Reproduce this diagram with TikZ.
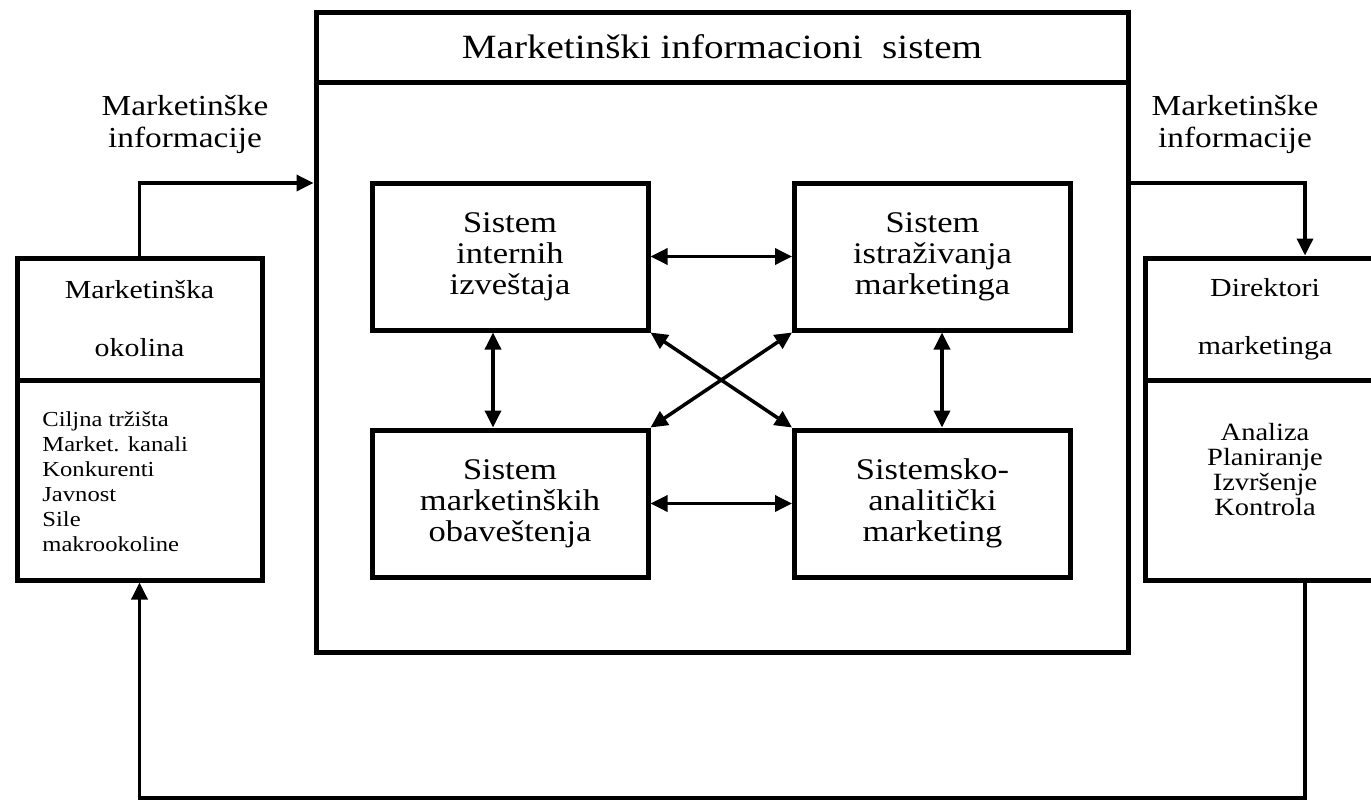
\documentclass[tikz,border=0pt]{standalone}
\usepackage{fontspec}
\setmainfont{Liberation Serif}[FakeStretch=1.15]
\usetikzlibrary{arrows.meta}
\tikzset{
  thickbox/.style={draw, line width=2.5pt, rectangle, inner sep=0pt},
  innerbox/.style={thickbox, minimum width=138pt, minimum height=73.5pt, align=center,
     font=\fontsize{15}{15.5}\selectfont},
  tip/.tip={Triangle[length=8.5pt,width=8pt]},
  conn/.style={line width=1.75pt, -tip},
  dconn/.style={line width=1.75pt, tip-tip},
  lbl/.style={align=center, font=\fontsize{14.5}{16}\selectfont, inner sep=0pt}
}
\begin{document}
\begin{tikzpicture}[x=0.5pt,y=-0.5pt]
\useasboundingbox (0,0) rectangle (1371,803);
% main system
\node[thickbox, minimum width=406pt, minimum height=35pt, font=\fontsize{17}{18}\selectfont] (mistitle) at (722,47) {Marketinški informacioni\ \ sistem};
\node[thickbox, minimum width=406pt, minimum height=285pt] (misbody) at (722,367) {};
% inner boxes
\node[innerbox] (tl) at (510,256.5) {\raisebox{2pt}{\parbox{130pt}{\centering Sistem\\internih\\izveštaja}}};
\node[innerbox] (tr) at (932.5,256.5) {\raisebox{2pt}{\parbox{130pt}{\centering Sistem\\istraživanja\\marketinga}}};
\node[innerbox] (bl) at (510,503.5) {\raisebox{2pt}{\parbox{130pt}{\centering Sistem\\marketinških\\obaveštenja}}};
\node[innerbox] (br) at (932.5,503.5) {\raisebox{2pt}{\parbox{130pt}{\centering Sistemsko-\\analitički\\marketing}}};
\draw[dconn] (tl.east) -- (tr.west);
\draw[dconn] (bl.east) -- (br.west);
\draw[dconn] ([xshift=-8.5pt]tl.south) -- ([xshift=-8.5pt]bl.north);
\draw[dconn] ([xshift=4.75pt]tr.south) -- ([xshift=4.75pt]br.north);
\draw[dconn] (tl.south east) -- (br.north west);
\draw[dconn] (tr.south west) -- (bl.north east);
% environment
\node[thickbox, minimum width=122.5pt, minimum height=61pt, align=center, font=\fontsize{13}{15}\selectfont] (envtop) at (139.5,319) {Marketinška\\[14pt]okolina};
\node[thickbox, minimum width=122.5pt, minimum height=100pt] (envbot) at (139.5,480) {};
\node[anchor=west, align=left, inner sep=0pt, font=\fontsize{10.7}{12.5}\selectfont] (envlist) at (42,482) {Ciljna tržišta\\Market. kanali\\Konkurenti\\Javnost\\Sile\\makrookoline};
% directors
\node[thickbox, minimum width=120pt, minimum height=61pt, align=center, font=\fontsize{13}{15}\selectfont] (dirtop) at (1265,319) {Direktori\\[14pt]marketinga};
\node[thickbox, minimum width=120pt, minimum height=100pt] (dirbot) at (1265,480) {};
\node[align=center, inner sep=0pt, font=\fontsize{12.4}{12.5}\selectfont] (dirlist) at (1265,470) {Analiza\\Planiranje\\Izvršenje\\Kontrola};
% labels
\node[lbl] (lblL) at (185,124) {Marketinške\\informacije};
\node[lbl] (lblR) at (1235,124) {Marketinške\\informacije};
% connectors
\draw[conn] (envtop.north) |- ([yshift=92pt]misbody.west);
\draw[conn] ([yshift=92pt]misbody.east) -| ([xshift=20pt]dirtop.north);
\coordinate (fb) at (0,798);
\draw[conn] ([xshift=20pt]dirbot.south) -- ([xshift=20pt]dirbot.south |- fb) -| (envbot.south);
\end{tikzpicture}
\end{document}
